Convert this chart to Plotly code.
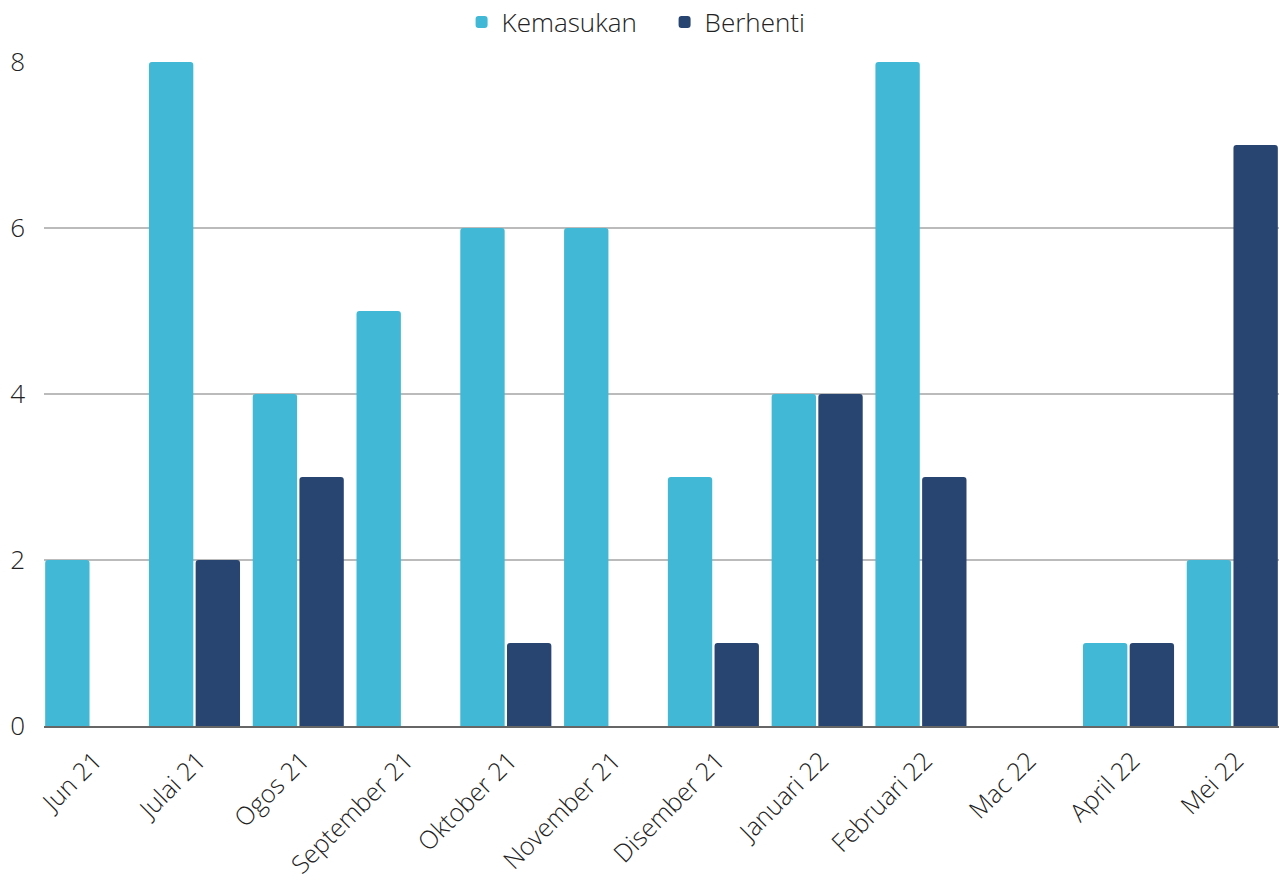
import plotly.graph_objects as go

months = ["Jun 21", "Julai 21", "Ogos 21", "September 21", "Oktober 21", "November 21",
          "Disember 21", "Januari 22", "Februari 22", "Mac 22", "April 22", "Mei 22"]
kemasukan = [2, 8, 4, 5, 6, 6, 3, 4, 8, 0, 1, 2]
berhenti = [0, 2, 3, 0, 1, 0, 1, 4, 3, 0, 1, 7]

FONT = "Open Sans"
TEXT = "#222222"

fig = go.Figure()
fig.add_trace(go.Bar(name="Kemasukan", x=months, y=kemasukan,
                     marker=dict(color="#41B8D5", line=dict(width=0))))
fig.add_trace(go.Bar(name="Berhenti", x=months, y=berhenti,
                     marker=dict(color="#284571", line=dict(width=0))))

fig.update_layout(
    width=1279, height=880,
    margin=dict(l=44, r=0, t=62, b=154, autoexpand=False),
    paper_bgcolor="white", plot_bgcolor="white",
    barmode="group", bargap=0.1, bargroupgap=0.05, barcornerradius=3,
    font=dict(family=FONT, size=25, color=TEXT, weight=300),
    legend=dict(orientation="h", x=0.5025, xanchor="center", y=1.06, yanchor="middle",
                yref="paper", font=dict(family=FONT, size=26, color=TEXT, weight=300),
                itemwidth=30, traceorder="normal", entrywidth=158),
    showlegend=True,
)
fig.update_xaxes(range=[-0.45, len(months) - 0.55], tickangle=-45, showgrid=False,
                 showline=True, linecolor="#666666", linewidth=2, ticks="",
                 ticklabelstandoff=8, ticklabelshift=4, automargin=False,
                 tickfont=dict(family=FONT, size=25, color=TEXT, weight=300))
fig.update_yaxes(range=[0, 8], tickvals=[0, 2, 4, 6, 8], showgrid=True, gridcolor="#BBBBBB",
                 gridwidth=1.5, zeroline=False, showline=False, ticks="", ticklabelstandoff=18,
                 automargin=False, tickfont=dict(family=FONT, size=26, color=TEXT, weight=300))

fig.write_html("out.html")
